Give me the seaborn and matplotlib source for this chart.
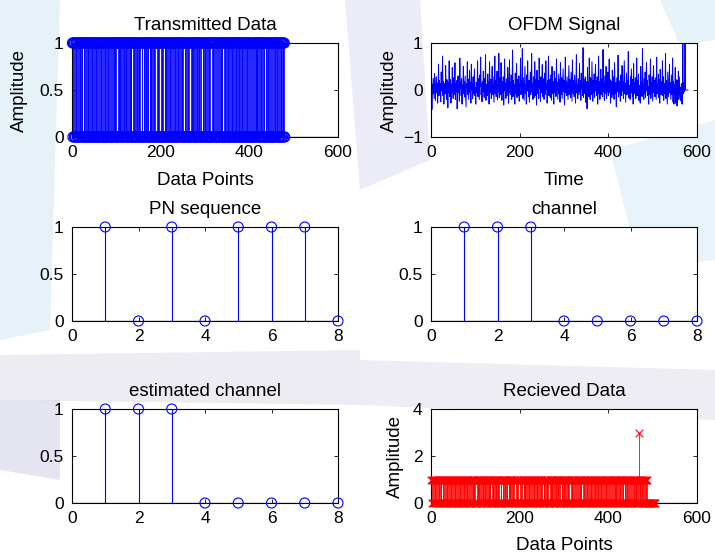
import numpy as np
import pandas as pd
import seaborn as sns
import matplotlib
matplotlib.use('Agg')
import matplotlib.pyplot as plt
from matplotlib.patches import Polygon

# Transmitted bits (approximate)
tx_bits = (
    "1011010011" "1010010110" "1110010110" "1001110100" "1011010110" "0101110100"
    "0110111010" "0101101001" "1101011000" "1011101101" "0010110111" "0100101101"
    "1100101101" "1101001011" "0100111010" "1101001010" "0111011010" "1100101110"
    "1010110100" "1011101001" "0110100011" "1010110101" "1001011010" "0111001011"
    "0101101110" "1001010110" "1101000101" "1101101001" "0110111010" "0100110110"
    "1011001011" "0100101110" "1011010001" "0110101110" "0101101010" "1101001011"
    "0110100101" "1101011010" "0111010010" "1101100101" "1010001011" "0101101110"
    "1001011010" "1101001110" "1010110100" "1001101011" "0111010010" "1101011010"
)

# OFDM signal samples, in hundredths
ofdm_vals = """
45 -42 12 -8 25 5 -18 35 10 -22 8 28 -6 15 -28 4 55 -12 20 -5
14 -25 38 -2 8 72 -12 18 -30 6 14 -8 52 4 -20 22 10 -38 16 -6
62 -14 8 22 -28 12 -6 48 8 -18 26 -10 5 58 -20 14 -4 20 -40 8
30 -6 12 -24 68 3 18 -12 24 -30 10 5 50 -8 18 -15 30 -2 -36 14
6 60 -10 22 -20 8 42 -5 16 -28 55 0 12 -18 28 -8 20 45 -12 5
-30 16 10 -6 62 -14 24 2 -20 32 8 70 -10 14 -25 18 -4 40 6 -16
24 -8 75 -22 12 5 -12 34 -2 18 -30 60 10 -6 22 -18 8 50 -10 28
2 -26 15 72 -8 20 -14 6 40 -20 12 -4 78 -16 26 0 -10 58 8 -22
18 -6 28 -32 10 66 -2 14 -18 24 4 -12 48 18 -28 8 64 -6 16 -10
32 -20 6 85 -14 20 -4 12 -30 36 10 -8 56 -16 22 2 -12 30 -24 14
8 68 -10 20 -6 88 -18 26 4 -22 16 50 -8 12 -30 32 -2 62 10 -14
20 -26 6 38 -10 18 78 -4 14 -20 28 0 -16 60 8 -12 22 -32 42 6
-8 20 -18 68 4 12 -24 28 -6 16 54 -14 24 -2 -20 36 10 -10 62 2
14 -28 20 -4 72 -12 8 22 -16 32 6 -22 50 -8 18 4 -30 40 12 -6
24 -14 66 0 16 -20 10 34 -8 22 -26 58 4 -10 26 -18 12 45 -4 20
-32 8 70 -6 18 -12 28 2 -20 14 52 -10 22 -2 -16 38 6 -24 64 10
-8 20 -14 32 4 -28 16 75 -6 12 -18 24 8 -10 56 -4 20 -22 36 2
14 -12 90 -16 22 4 -8 28 -26 18 10 -40 48 -6 16 -14 68 8 -20 26
0 -10 60 12 -24 20 -6 34 -16 8 54 -2 20 -12 28 -30 14 72 -8 18
-20 6 44 -10 24 2 -14 86 -4 16 -22 30 10 -8 50 -18 20 -4 38 -12
12 66 -6 22 -28 8 18 -16 42 2 -10 28 -20 58 6 -8 16 -36 26 10
-4 74 -14 20 -6 12 -24 32 4 -12 52 -2 18 -18 24 62 -8 14 -26 8
36 -10 20 -4 82 -16 10 2 -20 28 -6 45 12 -14 22 -30 56 -2 16 -8
26 -18 6 68 -12 20 -4 34 -22 10 4 -28 50 -6 18 -14 88 0 12 -20
24 -8 38 -16 14 58 -2 20 -12 8 -30 32 6 -10 66 -18 16 -4 28 -24
10 52 -6 20 -14 26 2 -20 70 -8 12 -2 34 -16 22 -28 44 8 -10 18
-4 62 -12 28 -22 14 6 -8 78 -18 20 -4 -30 38 10 -14 24 55 -6 16
-20 8 32 -10 68 -26 18 -30 12 -6 48 -28 22 2 -34 20 -8 40 -20 28
8 -10 -22 6 -28 14 -30 120 -8 16 0 -4 130 0 0 0 0 0 0 0
"""

pn_seq = [1, 0, 1, 0, 1, 1, 1, 0]
channel = [1, 1, 1, 0, 0, 0, 0, 0]
est_channel = [1, 1, 1, 0, 0, 0, 0, 0]

# Received bits: data part, then trailing zeros; one bit error with value 3
rx_bits = tx_bits + "10110101" + "00000000000000000"
rx_err_pos = 469
rx_err_val = 3

tx = pd.DataFrame({"n": np.arange(1, len(tx_bits) + 1),
                   "amp": [int(c) for c in tx_bits]})
ofdm_list = [int(v) / 100 for v in ofdm_vals.split()]
ofdm = pd.DataFrame({"t": np.arange(1, len(ofdm_list) + 1), "amp": ofdm_list})
rx_list = [int(c) for c in rx_bits]
rx_list[rx_err_pos - 1] = rx_err_val
rx = pd.DataFrame({"n": np.arange(1, len(rx_list) + 1), "amp": rx_list})

sns.set_theme(style="ticks")
plt.rcParams['font.family'] = ['Liberation Sans', 'DejaVu Sans']
plt.rcParams['axes.edgecolor'] = 'black'
plt.rcParams['axes.linewidth'] = 0.8
plt.rcParams['text.color'] = 'black'
plt.rcParams['axes.labelcolor'] = 'black'
plt.rcParams['xtick.color'] = 'black'
plt.rcParams['ytick.color'] = 'black'

FW, FH = 715, 556
fig = plt.figure(figsize=(FW / 100, FH / 100), dpi=100)
fig.patch.set_facecolor('white')

# faint watermark shapes behind the plots (pixel coords, y from top)
wm = [
    ([(0, 0), (60, 0), (50, 330), (0, 340)], '#d6e9f4'),
    ([(345, 0), (420, 0), (430, 160), (360, 190)], '#e0e0f4'),
    ([(0, 355), (360, 350), (360, 405), (0, 400)], '#e0e0ea'),
    ([(0, 400), (60, 400), (60, 480), (0, 470)], '#d4d5ea'),
    ([(610, 150), (715, 120), (715, 260), (640, 270)], '#daedf6'),
    ([(660, 0), (715, 0), (715, 40), (680, 45)], '#d6ebf5'),
    ([(360, 360), (715, 370), (715, 420), (360, 405)], '#e2e1ec'),
]
for pts, col in wm:
    fig.patches.append(Polygon([(x / FW, 1 - y / FH) for x, y in pts],
                               closed=True, transform=fig.transFigure,
                               facecolor=col, edgecolor='none', alpha=0.6,
                               zorder=-10))

W = 266 / FW
H = 94 / FH
cols = [72 / FW, 431 / FW]
rows = [1 - 137 / FH, 1 - 321 / FH, 1 - 503 / FH]
TFS = 13.5
LFS = 12.5


def make_ax(r, c):
    ax = fig.add_axes([cols[c], rows[r], W, H])
    ax.set_facecolor('white')
    ax.tick_params(direction='in', top=True, right=True, length=3, width=0.6,
                   labelsize=LFS, pad=6)
    for s in ax.spines.values():
        s.set_color('black')
        s.set_linewidth(0.8)
    return ax


def stem(ax, df, x, color, marker, size, lw=0.7):
    ax.axhline(0, color='black', lw=0.9, zorder=1)
    ax.vlines(df[x], 0, df["amp"], colors=color, linewidth=lw, zorder=2)
    if marker == 'o':
        sns.scatterplot(data=df, x=x, y="amp", ax=ax, marker='o', s=size,
                        facecolor='none', edgecolor=color, linewidth=0.8,
                        clip_on=False, legend=False, zorder=3)
    else:
        sns.scatterplot(data=df, x=x, y="amp", ax=ax, marker='x', s=size,
                        color=color, linewidth=0.8, clip_on=False,
                        legend=False, zorder=3)


# Transmitted Data
ax = make_ax(0, 0)
stem(ax, tx, "n", 'blue', 'o', 52, lw=0.6)
ax.set_xlim(0, 600)
ax.set_ylim(0, 1)
ax.set_xticks([0, 200, 400, 600])
ax.set_yticks([0, 0.5, 1])
ax.set_yticklabels(['0', '0.5', '1'])
ax.set_title('Transmitted Data', fontsize=TFS, pad=9)
ax.set_xlabel('Data Points', fontsize=TFS)
ax.set_ylabel('Amplitude', fontsize=TFS)
ax.xaxis.set_label_coords(0.5, -0.37)
ax.yaxis.set_label_coords(-0.166, 0.5)

# OFDM Signal
ax = make_ax(0, 1)
sns.lineplot(data=ofdm, x="t", y="amp", ax=ax, color='blue', linewidth=0.7)
ax.set_xlim(0, 600)
ax.set_ylim(-1, 1)
ax.set_xticks([0, 200, 400, 600])
ax.set_yticks([-1, 0, 1])
ax.set_title('OFDM Signal', fontsize=TFS, pad=9)
ax.set_xlabel('Time', fontsize=TFS)
ax.set_ylabel('Amplitude', fontsize=TFS)
ax.xaxis.set_label_coords(0.5, -0.37)
ax.yaxis.set_label_coords(-0.123, 0.5)

# PN sequence, channel, estimated channel
small = [("PN sequence", pn_seq, 1, 0), ("channel", channel, 1, 1),
         ("estimated channel", est_channel, 2, 0)]
for title, vals, r, c in small:
    ax = make_ax(r, c)
    df = pd.DataFrame({"k": np.arange(1, len(vals) + 1), "amp": vals})
    stem(ax, df, "k", 'blue', 'o', 52, lw=0.8)
    ax.set_xlim(0, 8)
    ax.set_ylim(0, 1)
    ax.set_xticks([0, 2, 4, 6, 8])
    ax.set_yticks([0, 0.5, 1])
    ax.set_yticklabels(['0', '0.5', '1'])
    ax.set_title(title, fontsize=TFS, pad=9)
    ax.set_xlabel('')
    ax.set_ylabel('')

# Recieved Data
ax = make_ax(2, 1)
stem(ax, rx, "n", 'red', 'x', 30, lw=0.6)
ax.set_xlim(0, 600)
ax.set_ylim(0, 4)
ax.set_xticks([0, 200, 400, 600])
ax.set_yticks([0, 2, 4])
ax.set_title('Recieved Data', fontsize=TFS, pad=9)
ax.set_xlabel('Data Points', fontsize=TFS)
ax.set_ylabel('Amplitude', fontsize=TFS)
ax.xaxis.set_label_coords(0.5, -0.365)
ax.yaxis.set_label_coords(-0.102, 0.5)

fig.savefig('out.png', dpi=100, facecolor=fig.get_facecolor())
